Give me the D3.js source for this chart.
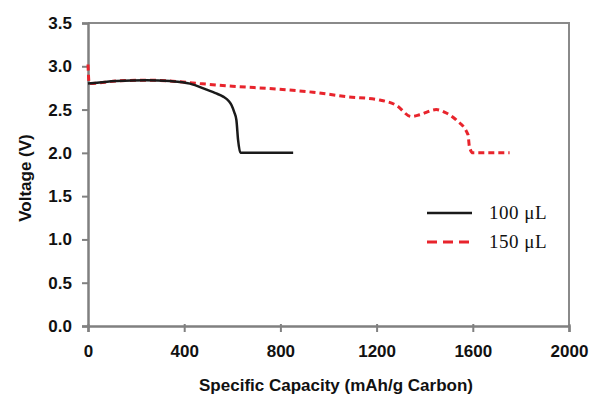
<!DOCTYPE html>
<html>
<head>
<meta charset="utf-8">
<script src="https://cdn.jsdelivr.net/npm/d3@7"></script>
<style>
  body { margin: 0; background: #fff; }
  svg text { font-family: Arial, "Liberation Sans", sans-serif; }
</style>
</head>
<body>
<div id="chart"></div>
<script>
// 100 uL discharge curve
const cap100 = [0, 120, 244, 340, 424, 493, 530, 562, 585, 597, 608, 617, 624, 634, 700, 853];
const volt100 = [2.80, 2.83, 2.84, 2.83, 2.80, 2.73, 2.69, 2.65, 2.60, 2.55, 2.47, 2.38, 2.15, 2.00, 2.00, 2.00];

// 150 uL discharge curve
const cap150 = [0, 5, 120, 244, 340, 465, 600, 797, 936, 1074, 1213, 1282, 1344, 1379, 1448, 1490, 1531, 1580, 1586, 1600, 1753];
const volt150 = [3.02, 2.80, 2.83, 2.84, 2.83, 2.80, 2.77, 2.735, 2.70, 2.65, 2.61, 2.55, 2.42, 2.44, 2.50, 2.46, 2.38, 2.21, 2.07, 2.00, 2.00];

const xTicks = [0, 400, 800, 1200, 1600, 2000];
const yTicks = [0, 0.5, 1.0, 1.5, 2.0, 2.5, 3.0, 3.5];
const seriesNames = ['100 \u03bcL', '150 \u03bcL'];

const width = 590, height = 398;
const margin = { top: 23, right: 21, bottom: 72, left: 88 };
const innerWidth = width - margin.left - margin.right;
const innerHeight = height - margin.top - margin.bottom;

const svg = d3.select('#chart').append('svg')
  .attr('width', width)
  .attr('height', height);

const chart = svg.append('g')
  .attr('transform', 'translate(' + margin.left + ',' + margin.top + ')');

const x = d3.scaleLinear().domain([0, 2000]).range([0, innerWidth]);
const y = d3.scaleLinear().domain([0, 3.5]).range([innerHeight, 0]);

// frame (top and right)
chart.append('path')
  .attr('d', 'M0,0H' + innerWidth + 'V' + innerHeight)
  .attr('fill', 'none')
  .attr('stroke', '#8a8a8a')
  .attr('stroke-width', 2);

const xAxis = chart.append('g')
  .attr('transform', 'translate(0,' + innerHeight + ')')
  .call(d3.axisBottom(x).tickValues(xTicks).tickSize(6).tickPadding(13).tickFormat(d3.format('d')));

const yAxis = chart.append('g')
  .call(d3.axisLeft(y).tickValues(yTicks).tickSize(6).tickPadding(10).tickFormat(d3.format('.1f')));

[xAxis, yAxis].forEach((g) => {
  g.select('.domain').attr('stroke', '#808080').attr('stroke-width', 2.5);
  g.selectAll('.tick line').attr('stroke', '#808080').attr('stroke-width', 2);
  g.selectAll('.tick text')
    .attr('fill', '#111')
    .style('font-size', '17px')
    .style('font-weight', 'bold');
});
xAxis.selectAll('.tick line').attr('y1', -2);

const line = d3.line()
  .x((d) => x(d[0]))
  .y((d) => y(d[1]))
  .curve(d3.curveMonotoneX);

const data100 = cap100.map((c, i) => [c, volt100[i]]);
const data150 = cap150.map((c, i) => [c, volt150[i]]);

chart.append('path')
  .datum(data150)
  .attr('d', line)
  .attr('fill', 'none')
  .attr('stroke', '#e8242c')
  .attr('stroke-width', 3)
  .attr('stroke-dasharray', '6,4');

chart.append('path')
  .datum(data100)
  .attr('d', line)
  .attr('fill', 'none')
  .attr('stroke', '#1a1a1a')
  .attr('stroke-width', 2.5);

// axis titles
svg.append('text')
  .attr('x', 336)
  .attr('y', 391)
  .attr('text-anchor', 'middle')
  .style('font-size', '17px')
  .style('font-weight', 'bold')
  .attr('fill', '#111')
  .text('Specific Capacity (mAh/g Carbon)');

svg.append('text')
  .attr('transform', 'translate(31,178) rotate(-90)')
  .attr('text-anchor', 'middle')
  .style('font-size', '17px')
  .style('font-weight', 'bold')
  .attr('fill', '#111')
  .text('Voltage (V)');

// legend
const legend = svg.append('g');
const legendStyles = [
  { stroke: '#1a1a1a', dash: null, width: 2.5 },
  { stroke: '#e8242c', dash: '10,6', width: 3 }
];
seriesNames.forEach((name, i) => {
  const ly = 213 + i * 29;
  legend.append('line')
    .attr('x1', 427).attr('x2', 472)
    .attr('y1', ly).attr('y2', ly)
    .attr('stroke', legendStyles[i].stroke)
    .attr('stroke-width', legendStyles[i].width)
    .attr('stroke-dasharray', legendStyles[i].dash);
  legend.append('text')
    .attr('x', 489)
    .attr('y', ly + 6)
    .style('font-family', '"Liberation Serif", "Times New Roman", serif')
    .style('font-size', '19px')
    .style('letter-spacing', '0.5px')
    .attr('fill', '#111')
    .text(name);
});
</script>
</body>
</html>
